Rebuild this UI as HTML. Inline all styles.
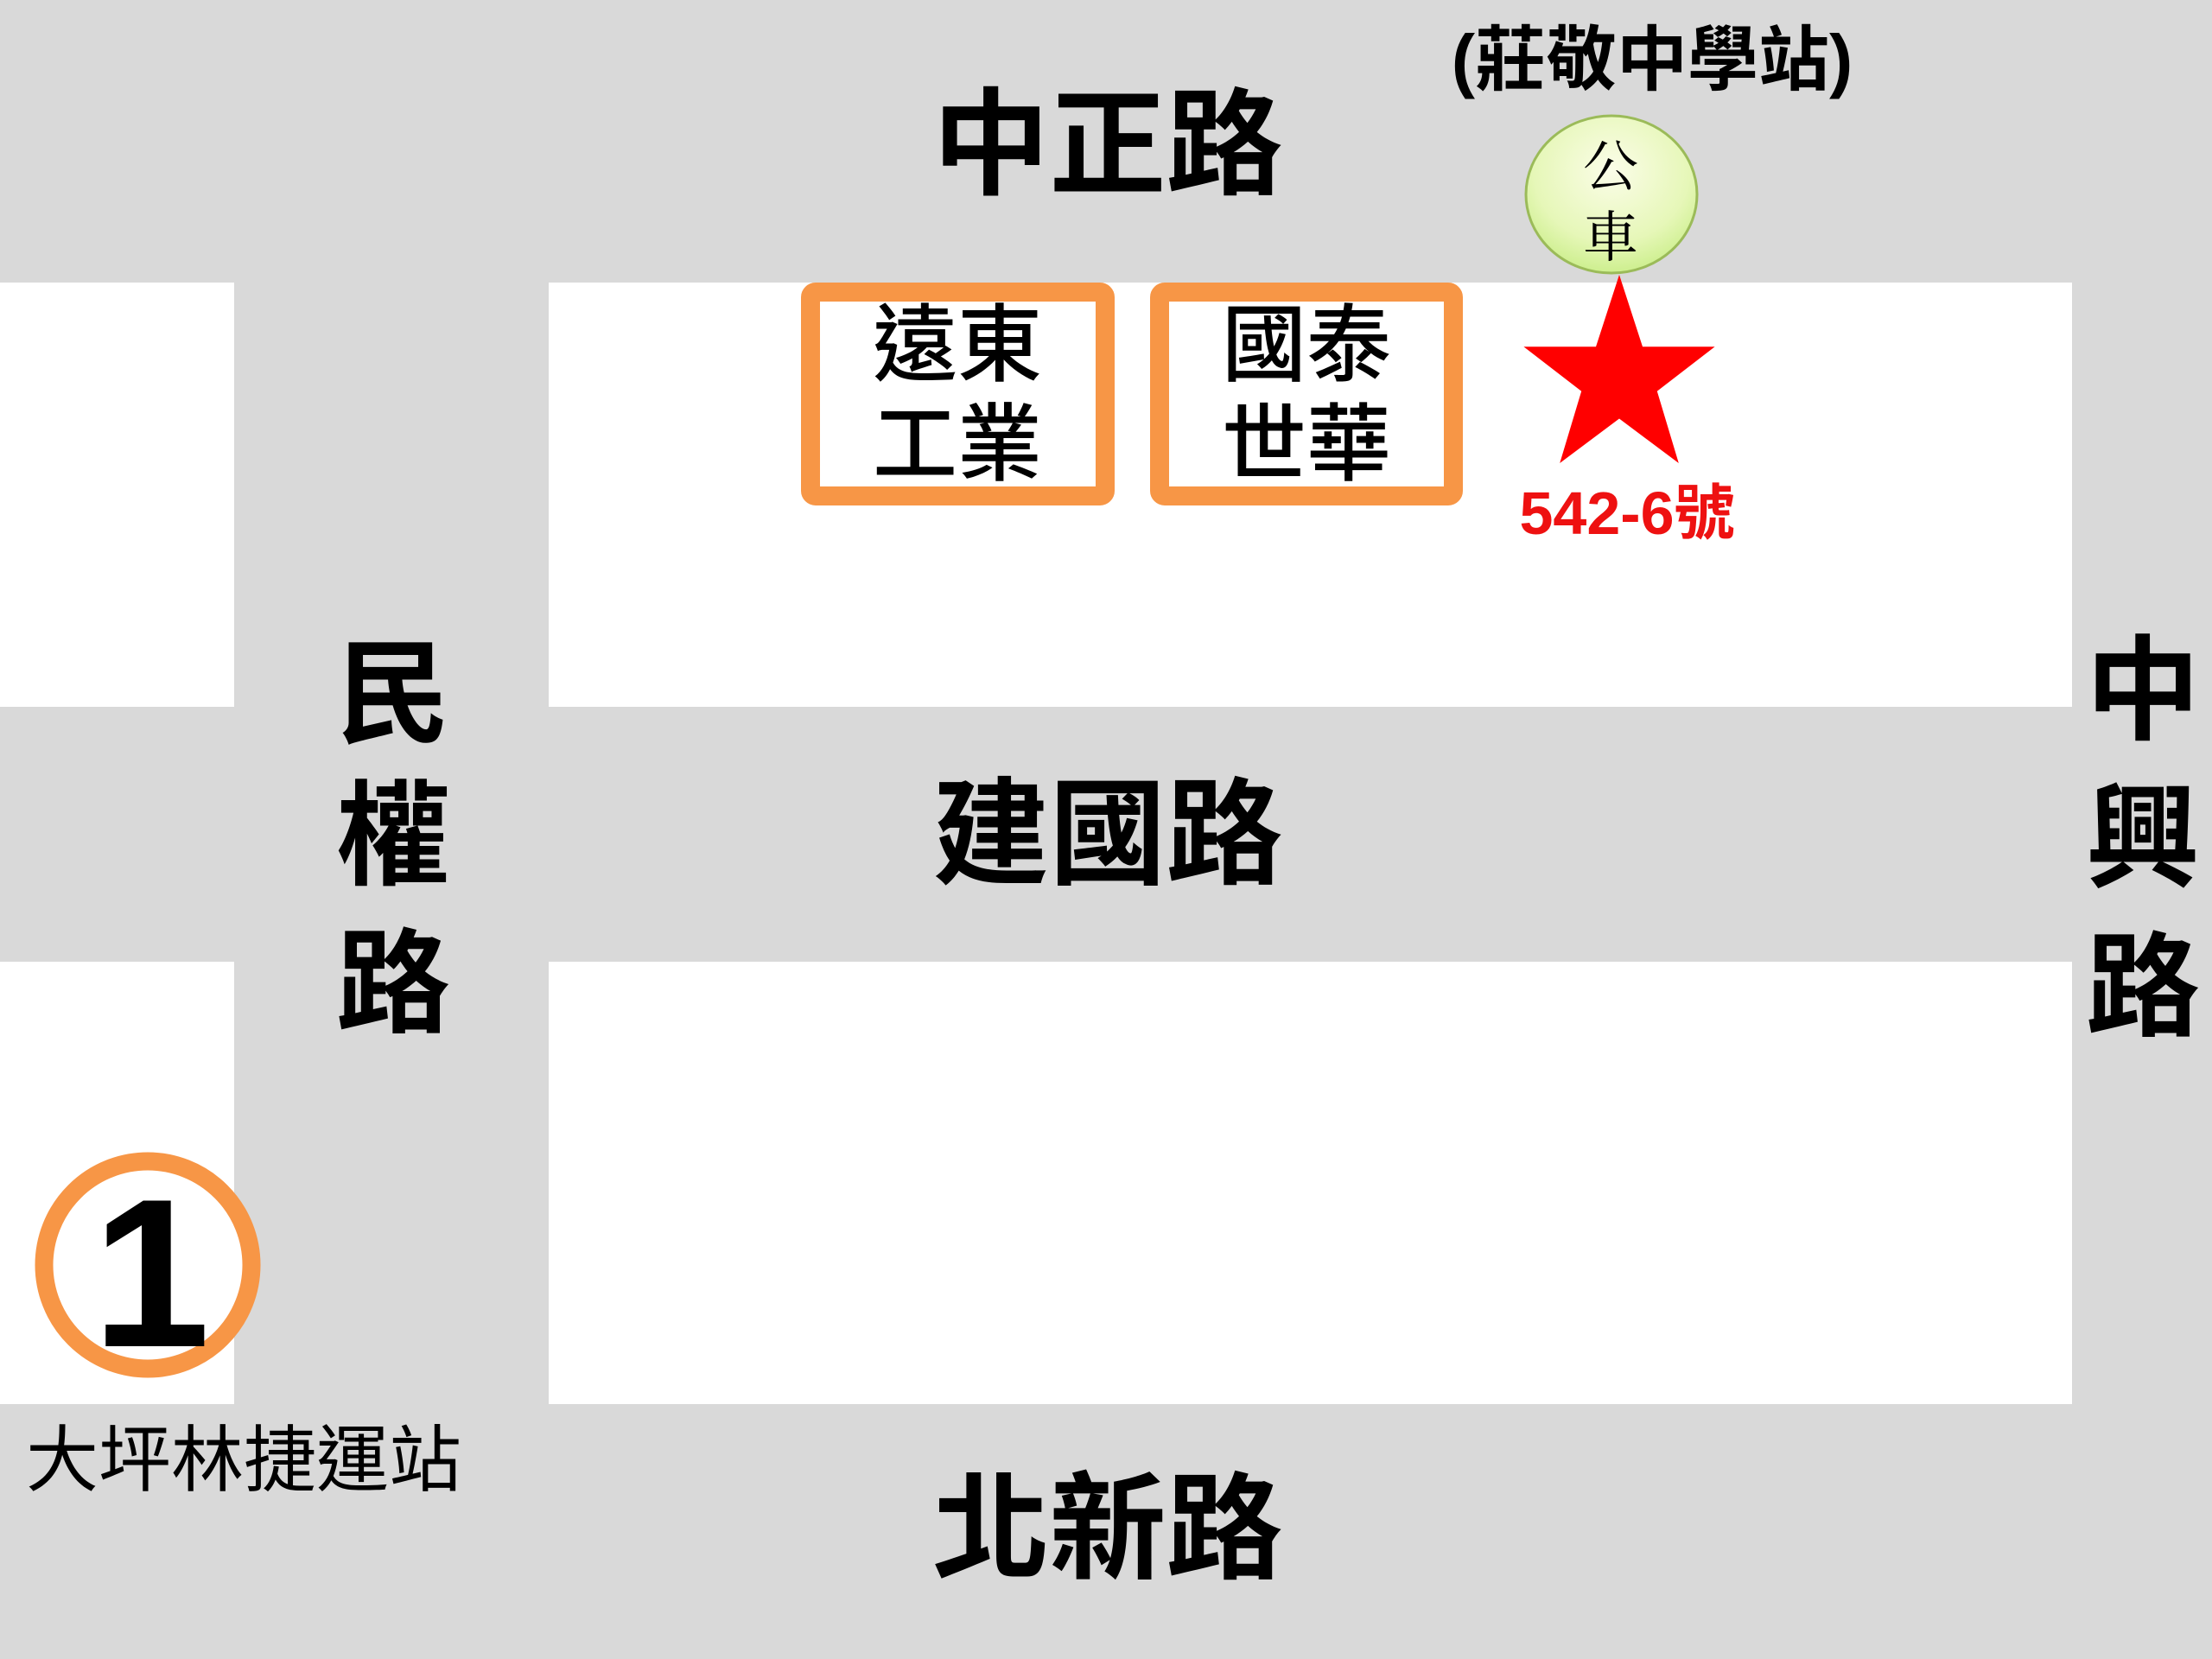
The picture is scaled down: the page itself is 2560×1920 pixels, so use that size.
<!DOCTYPE html>
<html><head><meta charset="utf-8"><style>
html,body{margin:0;padding:0;background:#d9d9d9;}
svg{display:block;}
text{font-family:"Liberation Sans","Noto Sans CJK TC",sans-serif;}
</style></head><body>
<svg width="2560" height="1920" viewBox="0 0 2560 1920" xmlns="http://www.w3.org/2000/svg">
<defs>
<radialGradient id="g" cx="50%" cy="35%" r="65%">
<stop offset="0%" stop-color="#fbfde8"/><stop offset="70%" stop-color="#e6f7b8"/><stop offset="100%" stop-color="#cdef8e"/>
</radialGradient>
</defs>
<rect width="2560" height="1920" fill="#d9d9d9"/>
<rect x="0" y="327" width="271" height="491" fill="#fff"/>
<rect x="635" y="327" width="1763" height="491" fill="#fff"/>
<rect x="0" y="1113" width="271" height="512" fill="#fff"/>
<rect x="635" y="1113" width="1763" height="512" fill="#fff"/>

<g font-weight="bold" fill="#000" text-anchor="middle" dominant-baseline="central" font-size="135">
<text x="1282" y="168">中正路</text>
<text x="1282" y="966">建國路</text>
<text x="1282" y="1770">北新路</text>
<text x="455" y="804" font-size="132">民</text>
<text x="455" y="968" font-size="132">權</text>
<text x="455" y="1139" font-size="132">路</text>
<text x="2480" y="800" font-size="132">中</text>
<text x="2480" y="971" font-size="132">興</text>
<text x="2480" y="1143" font-size="132">路</text>
</g>
<text x="1912" y="70" font-size="82" font-weight="bold" text-anchor="middle" dominant-baseline="central">(莊敬中學站)</text>

<rect x="938" y="338" width="341" height="236" rx="6" fill="#fff" stroke="#f79646" stroke-width="22"/>
<rect x="1342" y="338" width="340" height="236" rx="6" fill="#fff" stroke="#f79646" stroke-width="22"/>
<g font-size="98" text-anchor="middle" dominant-baseline="central" font-weight="500">
<text x="1108" y="399">遠東</text>
<text x="1108" y="514">工業</text>
<text x="1512" y="399">國泰</text>
<text x="1512" y="514">世華</text>
</g>

<ellipse cx="1865" cy="225" rx="99" ry="91" fill="url(#g)" stroke="#9bbb59" stroke-width="3"/>
<text x="1864" y="188" font-size="64" text-anchor="middle" dominant-baseline="central" style="font-family:'Noto Serif CJK SC',serif">公</text>
<text x="1864" y="270" font-size="64" text-anchor="middle" dominant-baseline="central" style="font-family:'Noto Serif CJK SC',serif">車</text>

<polygon fill="#ff0000" points="1874.0,318.0 1901.0,401.3 1984.6,401.3 1917.8,452.7 1942.8,536.0 1874.0,484.5 1805.2,536.0 1830.2,452.7 1763.4,401.3 1847.0,401.3"/>
<text x="1883" y="594" font-size="70" font-weight="bold" fill="#ee1111" text-anchor="middle" dominant-baseline="central">542-6號</text>

<circle cx="171" cy="1464" r="120" fill="#fff" stroke="#f79646" stroke-width="21"/>
<text x="175" y="1558" font-size="245" font-weight="bold" text-anchor="middle">1</text>
<text x="282" y="1690" font-size="84" text-anchor="middle" dominant-baseline="central">大坪林捷運站</text>
</svg>
</body></html>
